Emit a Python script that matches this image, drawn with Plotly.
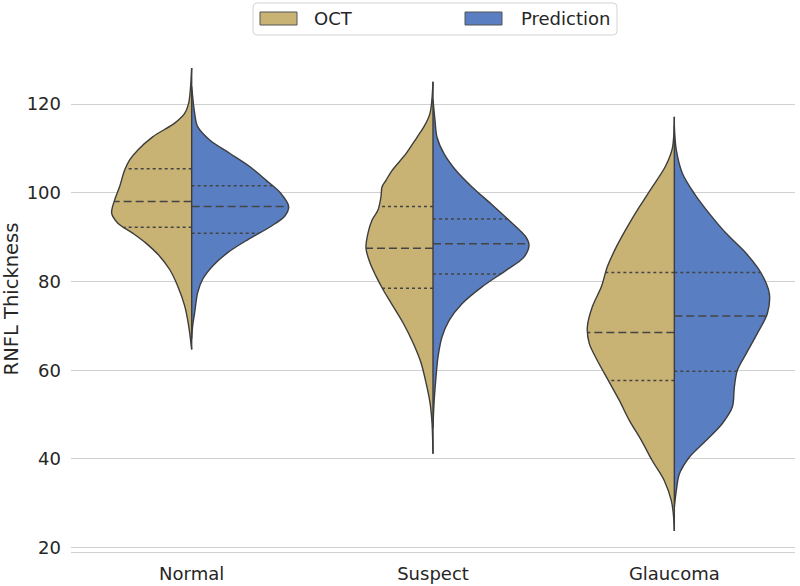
import numpy as np
import plotly.graph_objects as go

CATEGORIES = ["Normal", "Suspect", "Glaucoma"]
SERIES = ["OCT", "Prediction"]
Y_TICKS = [20, 40, 60, 80, 100, 120]

# Violin outlines: RNFL thickness values (top -> bottom)
# and the half-width of the density at that value (pixels at 241.3 px per category).
NORMAL_OCT_Y = [128.1, 120.2, 117.9, 115.7, 112.6, 109.6, 107.4, 105.1, 101.4, 98.4, 95.4, 93.2, 90.9, 88.7, 85.7, 82.7, 79.0, 74.5, 70.0, 64.7]
NORMAL_OCT_W = [0, 3, 7, 17, 39, 54, 62, 67, 72, 77, 80, 74, 59, 46, 32, 22, 14, 7, 3, 0]
NORMAL_PRED_Y = [124.0, 117.9, 114.9, 111.9, 108.9, 105.9, 102.9, 99.9, 96.9, 94.7, 92.4, 89.4, 86.5, 83.5, 80.5, 77.5, 73.0, 70.0, 67.0]
NORMAL_PRED_W = [0, 3, 6, 18, 38, 58, 74, 89, 97, 93, 79, 56, 36, 21, 11, 6, 3, 1, 0]

SUSPECT_OCT_Y = [125.0, 117.9, 114.9, 112.5, 108.8, 105.0, 102.8, 101.3, 99.1, 96.1, 93.8, 90.9, 87.5, 84.2, 81.2, 78.2, 75.2, 70.7, 66.2, 61.7, 57.2, 52.7, 48.2, 41.2]
SUSPECT_OCT_W = [0, 3, 9, 16, 27, 41, 47, 51, 52, 55, 61, 65, 67, 63, 57, 50, 42, 30, 20, 12, 7, 3, 1, 0]
SUSPECT_PRED_Y = [121.0, 116.3, 112.5, 108.8, 105.0, 101.3, 97.5, 93.8, 90.0, 88.2, 85.5, 82.5, 78.8, 75.0, 71.2, 67.5, 63.0, 58.5, 52.5, 47.0]
SUSPECT_PRED_W = [0, 2, 4, 11, 23, 39, 58, 76, 93, 96, 91, 73, 49, 29, 16, 9, 5, 3, 1, 0]

GLAUCOMA_OCT_Y = [117.1, 110.0, 105.9, 101.3, 96.8, 92.3, 87.8, 83.3, 78.8, 74.3, 69.7, 66.0, 62.2, 57.7, 53.2, 48.7, 44.2, 39.6, 35.1, 30.6, 27.6, 23.8]
GLAUCOMA_OCT_W = [0, 2, 9, 22, 35, 47, 58, 67, 73, 82, 87, 85, 77, 66, 55, 45, 33, 22, 10, 3, 1, 0]
GLAUCOMA_PRED_Y = [115.0, 109.6, 104.4, 99.8, 95.3, 90.8, 86.3, 81.8, 77.3, 72.8, 68.3, 63.8, 60.0, 56.2, 51.7, 48.0, 44.2, 40.4, 36.6, 32.9, 29.1]
GLAUCOMA_PRED_W = [0, 2, 8, 20, 35, 52, 72, 87, 95, 93, 83, 72, 63, 60, 58, 48, 32, 15, 5, 2, 0]

# Quartiles (25th, median, 75th)
NORMAL_OCT_Q = [92.2, 98.0, 105.4]
NORMAL_PRED_Q = [90.9, 96.9, 101.6]
SUSPECT_OCT_Q = [78.5, 87.5, 96.9]
SUSPECT_PRED_Q = [81.7, 88.5, 94.1]
GLAUCOMA_OCT_Q = [57.7, 68.5, 82.0]
GLAUCOMA_PRED_Q = [59.8, 72.2, 82.0]

COLORS = {"OCT": "#C9B374", "Prediction": "#5A7EC2"}
OUTLINE = "#3d3d3d"
TEXT = "#262626"
GRID = "#d0d0d0"
W_SCALE = 1 / 241.3
FONT = "DejaVu Sans"

halves = [
    (0, "OCT", NORMAL_OCT_Y, NORMAL_OCT_W, NORMAL_OCT_Q),
    (0, "Prediction", NORMAL_PRED_Y, NORMAL_PRED_W, NORMAL_PRED_Q),
    (1, "OCT", SUSPECT_OCT_Y, SUSPECT_OCT_W, SUSPECT_OCT_Q),
    (1, "Prediction", SUSPECT_PRED_Y, SUSPECT_PRED_W, SUSPECT_PRED_Q),
    (2, "OCT", GLAUCOMA_OCT_Y, GLAUCOMA_OCT_W, GLAUCOMA_OCT_Q),
    (2, "Prediction", GLAUCOMA_PRED_Y, GLAUCOMA_PRED_W, GLAUCOMA_PRED_Q),
]

fig = go.Figure()

for ci, series, ys, ws, qs in halves:
    sign = -1 if series == "OCT" else 1
    ys = np.array(ys, dtype=float)
    ws = np.array(ws, dtype=float) * W_SCALE
    fig.add_trace(go.Scatter(
        x=ci + sign * ws, y=ys, mode="lines",
        line=dict(shape="spline", smoothing=0.9, color=OUTLINE, width=1.4),
        fill="toself", fillcolor=COLORS[series],
        showlegend=False, hoverinfo="skip",
    ))
    # quartile lines
    for k, q in enumerate(qs):
        wq = np.interp(q, ys[::-1], ws[::-1])
        fig.add_trace(go.Scatter(
            x=[ci, ci + sign * wq], y=[q, q], mode="lines",
            line=dict(color="#444444", width=1.5,
                      dash="8px,4px" if k == 1 else "3px,3px"),
            showlegend=False, hoverinfo="skip",
        ))

# center lines spanning both halves
for ci in range(len(CATEGORIES)):
    tops = [max(h[2]) for h in halves if h[0] == ci]
    bots = [min(h[2]) for h in halves if h[0] == ci]
    fig.add_trace(go.Scatter(
        x=[ci, ci], y=[max(tops), min(bots)], mode="lines",
        line=dict(color=OUTLINE, width=1.4),
        showlegend=False, hoverinfo="skip",
    ))

# ---- manual legend (matplotlib-like) ----
L, T, PW, PH = 71, 46, 724, 506


def px(xp):
    return (xp - L) / PW


def py(yp):
    return (T + PH - yp) / PH


x0, x1, y0, y1, r = 253, 617, 3, 35, 4
path = (f"M {px(x0 + r)},{py(y0)} L {px(x1 - r)},{py(y0)} "
        f"Q {px(x1)},{py(y0)} {px(x1)},{py(y0 + r)} L {px(x1)},{py(y1 - r)} "
        f"Q {px(x1)},{py(y1)} {px(x1 - r)},{py(y1)} L {px(x0 + r)},{py(y1)} "
        f"Q {px(x0)},{py(y1)} {px(x0)},{py(y1 - r)} L {px(x0)},{py(y0 + r)} "
        f"Q {px(x0)},{py(y0)} {px(x0 + r)},{py(y0)} Z")
fig.add_shape(type="path", path=path, xref="paper", yref="paper",
              line=dict(color="#d4d4d4", width=1), fillcolor="rgba(255,255,255,0.8)")

for name, sx, tx in [(SERIES[0], 260, 312), (SERIES[1], 465, 519)]:
    fig.add_shape(type="rect", xref="paper", yref="paper",
                  x0=px(sx), x1=px(sx + 37), y0=py(25), y1=py(12),
                  fillcolor=COLORS[name], line=dict(color="#555555", width=1))
    fig.add_annotation(x=px(tx), y=py(18.5), xref="paper", yref="paper",
                       text=name, showarrow=False, xanchor="left", yanchor="middle",
                       font=dict(family=FONT, size=18, color=TEXT))

fig.update_layout(
    width=800, height=586,
    margin=dict(l=L, r=800 - L - PW, t=T, b=586 - T - PH, autoexpand=False),
    plot_bgcolor="white", paper_bgcolor="white",
    font=dict(family=FONT, size=18, color=TEXT),
    showlegend=False,
)
fig.update_xaxes(
    range=[-0.5, 2.5], tickmode="array", tickvals=list(range(len(CATEGORIES))),
    ticktext=CATEGORIES, showgrid=False, zeroline=False, automargin=False,
    showline=True, linecolor=GRID, linewidth=1.3, ticks="",
    ticklabelstandoff=5, tickfont=dict(size=18, color=TEXT),
)
fig.update_yaxes(
    range=[19.04, 133.07], tickmode="array", tickvals=Y_TICKS,
    showgrid=True, gridcolor=GRID, gridwidth=1, zeroline=False, automargin=False,
    showline=False, ticks="", ticklabelstandoff=9,
    tickfont=dict(size=18, color=TEXT),
    title=dict(text="RNFL Thickness", font=dict(size=19.5, color=TEXT), standoff=8),
)

fig.write_html(
    "out.html",
    config={"displayModeBar": False},
    post_script="document.body.style.margin='0';document.body.style.overflow='hidden';",
)
